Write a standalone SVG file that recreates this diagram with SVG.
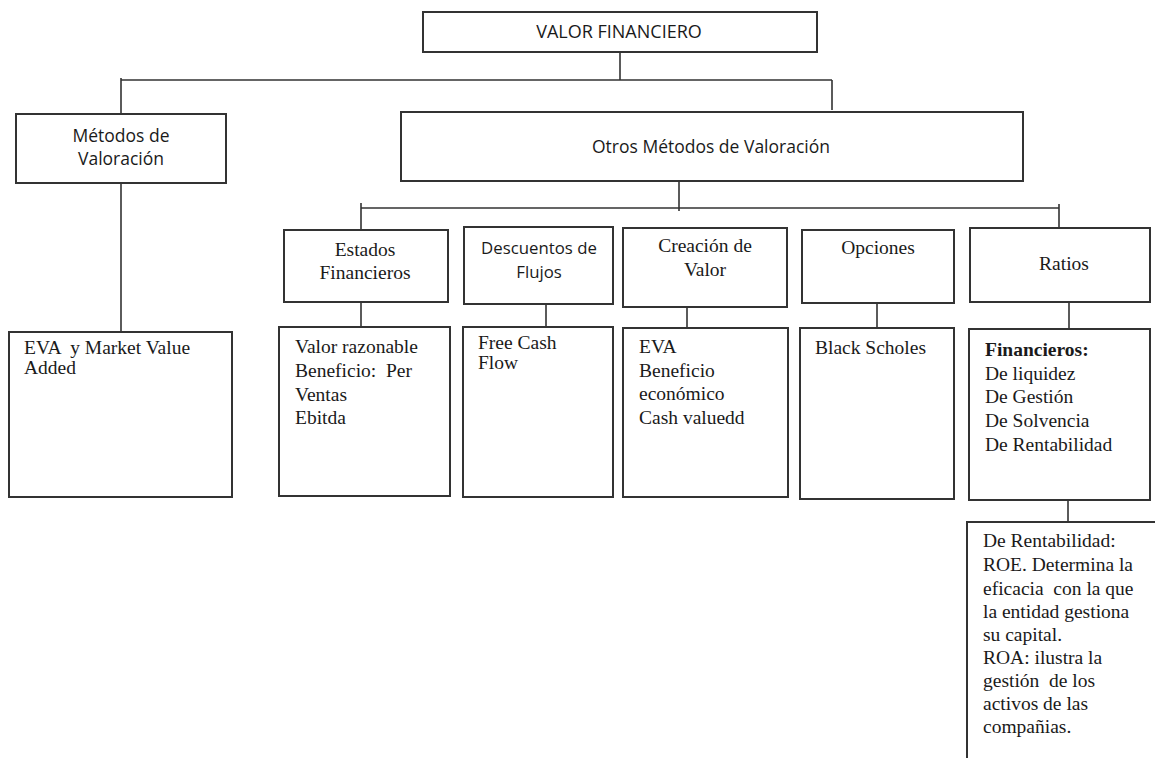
<svg xmlns="http://www.w3.org/2000/svg" width="1155" height="758" viewBox="0 0 1155 758">
<style>
.box{fill:#fff;stroke:#333;stroke-width:2}
.ln{fill:none;stroke:#333;stroke-width:1.6}
.sans{font-family:"Open Sans","Liberation Sans",sans-serif;font-size:17.5px;fill:#1a1a1a}
.serif{font-family:"Liberation Serif","Times New Roman",serif;font-size:19.5px;fill:#1a1a1a;white-space:pre}
.c{text-anchor:middle}
.b{font-weight:bold}
</style>
<rect width="1155" height="758" fill="#fff"/>
<g id="connectors">
<path class="ln" d="M620 52V80M121 80H832M121 78V114M832 80V110"/>
<path class="ln" d="M121 183V332"/>
<path class="ln" d="M679 181V211M361 208H1059M361 203V230M1059 204V234"/>
<path class="ln" d="M361 297V327M546 299V329M687 303V330M877 303V330M1069 302V330M1068 500V532"/>
<path class="ln" d="M1089 544H1095V559"/>
</g>
<g id="valor-financiero">
<rect class="box" x="423" y="12" width="394" height="40"/>
<text class="sans c" x="619" y="38" style="font-size:18px">VALOR FINANCIERO</text>
</g>
<g id="metodos-valoracion">
<rect class="box" x="16" y="114" width="210" height="69"/>
<text class="sans c" x="121" y="142" style="font-size:17.5px">Métodos de</text>
<text class="sans c" x="121" y="165" style="font-size:17.5px">Valoración</text>
</g>
<g id="otros-metodos">
<rect class="box" x="401" y="112" width="622" height="69"/>
<text class="sans c" x="711" y="153">Otros Métodos de Valoración</text>
</g>
<g id="eva-mva">
<rect class="box" x="9" y="332" width="223" height="165"/>
<text class="serif" x="24" y="354">EVA  y Market Value</text>
<text class="serif" x="24" y="374">Added</text>
</g>
<g id="estados-financieros">
<rect class="box" x="284" y="230" width="164" height="72"/>
<text class="serif c" x="365" y="256">Estados</text>
<text class="serif c" x="365" y="279">Financieros</text>
</g>
<g id="descuentos-flujos">
<rect class="box" x="464" y="227" width="149" height="77"/>
<text class="sans c" x="539" y="254" style="font-size:16.8px">Descuentos de</text>
<text class="sans c" x="539" y="278" style="font-size:16.8px">Flujos</text>
</g>
<g id="creacion-valor">
<rect class="box" x="623" y="228" width="164" height="79"/>
<text class="serif c" x="705" y="252">Creación de</text>
<text class="serif c" x="705" y="276">Valor</text>
</g>
<g id="opciones">
<rect class="box" x="802" y="230" width="152" height="73"/>
<text class="serif c" x="878" y="254">Opciones</text>
</g>
<g id="ratios">
<rect class="box" x="970" y="228" width="180" height="74"/>
<text class="serif c" x="1064" y="270">Ratios</text>
</g>
<g id="estados-detalle">
<rect class="box" x="279" y="327" width="171" height="169"/>
<text class="serif" x="295" y="353">Valor razonable</text>
<text class="serif" x="295" y="377">Beneficio:  Per</text>
<text class="serif" x="295" y="401">Ventas</text>
<text class="serif" x="295" y="424">Ebitda</text>
</g>
<g id="flujos-detalle">
<rect class="box" x="463" y="327" width="150" height="170"/>
<text class="serif" x="478" y="349">Free Cash</text>
<text class="serif" x="478" y="369">Flow</text>
</g>
<g id="creacion-detalle">
<rect class="box" x="623" y="328" width="165" height="169"/>
<text class="serif" x="639" y="353">EVA</text>
<text class="serif" x="639" y="377">Beneficio</text>
<text class="serif" x="639" y="400">económico</text>
<text class="serif" x="639" y="424">Cash valuedd</text>
</g>
<g id="opciones-detalle">
<rect class="box" x="800" y="328" width="154" height="171"/>
<text class="serif" x="815" y="354">Black Scholes</text>
</g>
<g id="ratios-detalle">
<rect class="box" x="969" y="329" width="181" height="171"/>
<text class="serif b" x="985" y="356">Financieros:</text>
<text class="serif" x="985" y="380">De liquidez</text>
<text class="serif" x="985" y="403">De Gestión</text>
<text class="serif" x="985" y="427">De Solvencia</text>
<text class="serif" x="985" y="451">De Rentabilidad</text>
</g>
<g id="rentabilidad-detalle">
<rect class="box" x="967" y="522" width="220" height="260"/>
<text class="serif" x="983" y="547">De Rentabilidad:</text>
<text class="serif" x="983" y="571">ROE. Determina la</text>
<text class="serif" x="983" y="595">eficacia  con la que</text>
<text class="serif" x="983" y="618">la entidad gestiona</text>
<text class="serif" x="983" y="641">su capital.</text>
<text class="serif" x="983" y="664">ROA: ilustra la</text>
<text class="serif" x="983" y="687">gestión  de los</text>
<text class="serif" x="983" y="710">activos de las</text>
<text class="serif" x="983" y="733">compañias.</text>
</g>
</svg>
